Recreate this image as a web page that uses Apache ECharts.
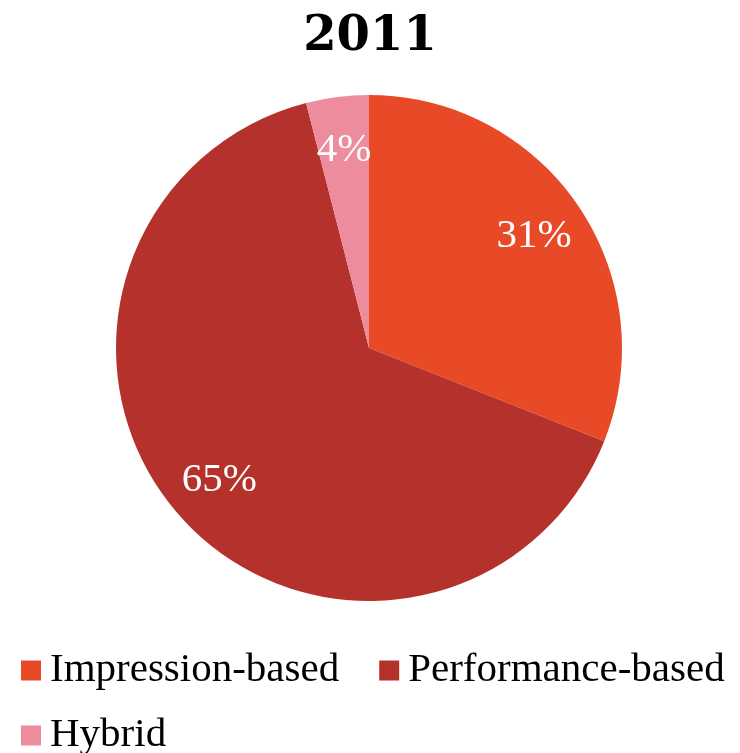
<!DOCTYPE html>
<html>
<head>
<meta charset="utf-8">
<script src="https://cdn.jsdelivr.net/npm/echarts@6/dist/echarts.min.js"></script>
<style>
  html, body { margin: 0; padding: 0; background: #fff; }
  #chart { width: 740px; height: 753px; }
</style>
</head>
<body>
<div id="chart"></div>
<script>
// chart data
const titleText = '2011'
const categories = ['Impression-based', 'Performance-based', 'Hybrid']
const shares = [31, 65, 4]
const colors = ['#E84A27', '#B5312B', '#EC8C9C']

const pieData = categories.map((name, i) => ({
  name: name,
  value: shares[i],
  itemStyle: { color: colors[i] }
}))

const chart = echarts.init(document.getElementById('chart'))

const center = [369, 348]

const legendBase = {
  left: 16,
  icon: 'rect',
  itemWidth: 20,
  itemHeight: 20,
  itemGap: 40,
  selectedMode: false,
  textStyle: {
    fontFamily: 'Liberation Serif',
    fontSize: 41,
    color: '#000',
    padding: [0, 0, 0, 4]
  }
}

const option = {
  backgroundColor: '#fff',
  animation: false,
  title: {
    text: titleText,
    left: 'center',
    top: 9,
    textStyle: {
      fontFamily: 'DejaVu Serif',
      fontWeight: 'bold',
      fontSize: 48,
      color: '#000'
    }
  },
  // two legends so the rows sit where the reference puts them
  legend: [
    Object.assign({}, legendBase, { data: categories.slice(0, 2), top: 645 }),
    Object.assign({}, legendBase, { data: categories.slice(2), top: 710 })
  ],
  series: [
    {
      // visible pie
      type: 'pie',
      center: center,
      radius: [0, 253],
      startAngle: 90,
      clockwise: true,
      silent: true,
      label: { show: false },
      labelLine: { show: false },
      data: pieData
    },
    {
      // transparent ring only used to place the labels
      type: 'pie',
      center: center,
      radius: [140, 253],
      startAngle: 90,
      clockwise: true,
      silent: true,
      legendHoverLink: false,
      itemStyle: { color: 'transparent' },
      label: {
        show: true,
        position: 'inside',
        formatter: '{c}%',
        color: '#fff',
        fontFamily: 'Liberation Serif',
        fontSize: 41
      },
      labelLine: { show: false },
      data: shares.map((v, i) => ({ name: categories[i] + ' ', value: v }))
    }
  ]
}

chart.setOption(option)
</script>
</body>
</html>
